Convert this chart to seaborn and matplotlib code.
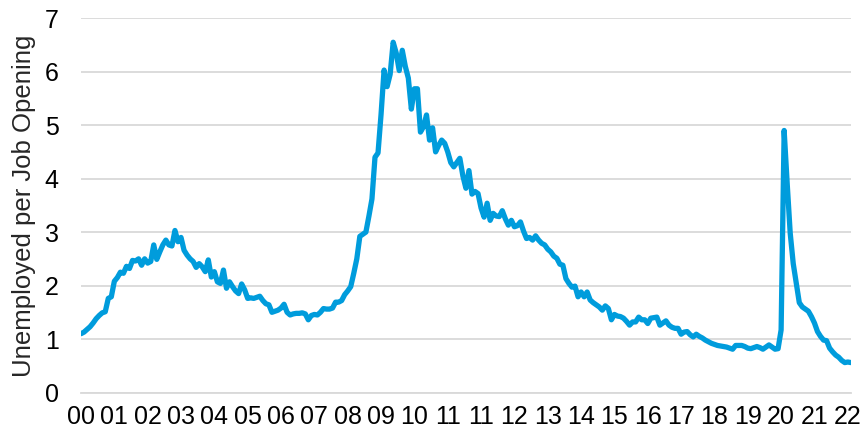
import numpy as np
import pandas as pd
import matplotlib
matplotlib.use("Agg")
import matplotlib.pyplot as plt
import seaborn as sns

# Unemployed persons per job opening, monthly, Dec 2000 - Feb 2022
ratio = [
    1.10,
    1.13, 1.18, 1.23, 1.30, 1.38, 1.44, 1.49, 1.51, 1.76, 1.79, 2.08, 2.15,  # 2001
    2.25, 2.23, 2.36, 2.32, 2.47, 2.46, 2.50, 2.38, 2.50, 2.42, 2.45, 2.76,  # 2002
    2.49, 2.63, 2.76, 2.85, 2.76, 2.74, 3.03, 2.82, 2.90, 2.66, 2.57, 2.50,  # 2003
    2.45, 2.34, 2.41, 2.35, 2.26, 2.48, 2.16, 2.26, 2.07, 2.04, 2.29, 1.95,  # 2004
    2.07, 1.98, 1.90, 1.85, 2.03, 1.92, 1.76, 1.77, 1.76, 1.78, 1.80, 1.72,  # 2005
    1.66, 1.64, 1.50, 1.52, 1.54, 1.58, 1.65, 1.50, 1.45, 1.47, 1.48, 1.48,  # 2006
    1.49, 1.47, 1.36, 1.44, 1.46, 1.45, 1.50, 1.57, 1.56, 1.56, 1.58, 1.69,  # 2007
    1.69, 1.72, 1.83, 1.90, 1.98, 2.23, 2.50, 2.92, 2.96, 3.00, 3.30, 3.62,  # 2008
    4.40, 4.48, 5.20, 6.03, 5.72, 5.95, 6.55, 6.35, 6.02, 6.40, 6.10, 5.88,  # 2009
    5.30, 5.68, 5.68, 4.87, 4.97, 5.19, 4.72, 4.95, 4.50, 4.62, 4.72, 4.66,  # 2010
    4.50, 4.30, 4.22, 4.30, 4.38, 4.05, 3.82, 4.15, 3.71, 3.76, 3.72, 3.45,  # 2011
    3.28, 3.54, 3.22, 3.35, 3.30, 3.29, 3.40, 3.25, 3.13, 3.22, 3.10, 3.12,  # 2012
    3.19, 3.02, 2.88, 2.90, 2.85, 2.93, 2.85, 2.79, 2.76, 2.68, 2.63, 2.55,  # 2013
    2.51, 2.40, 2.38, 2.13, 2.04, 1.97, 1.99, 1.79, 1.88, 1.79, 1.88, 1.73,  # 2014
    1.68, 1.64, 1.60, 1.54, 1.62, 1.57, 1.36, 1.46, 1.43, 1.42, 1.39, 1.33,  # 2015
    1.26, 1.32, 1.32, 1.41, 1.36, 1.36, 1.29, 1.39, 1.40, 1.41, 1.26, 1.30,  # 2016
    1.34, 1.26, 1.22, 1.20, 1.20, 1.09, 1.13, 1.14, 1.08, 1.04, 1.09, 1.05,  # 2017
    1.02, 0.98, 0.95, 0.92, 0.90, 0.88, 0.87, 0.86, 0.85, 0.83, 0.81, 0.88,  # 2018
    0.88, 0.88, 0.86, 0.83, 0.82, 0.84, 0.86, 0.84, 0.81, 0.85, 0.89, 0.85,  # 2019
    0.81, 0.82, 1.17, 4.90, 3.91, 2.98, 2.41, 2.04, 1.68, 1.60, 1.56, 1.52,  # 2020
    1.42, 1.30, 1.14, 1.05, 0.98, 0.97, 0.83, 0.76, 0.70, 0.66, 0.60, 0.56,  # 2021
    0.57, 0.56,                                                              # 2022
]

# category axis: a tick every 11 months, labelled with the year of that month
tick_labels = ["00", "01", "02", "03", "04", "05", "06", "07", "08", "09", "10",
               "11", "11", "12", "13", "14", "15", "16", "17", "18", "19", "20",
               "21", "22"]

df = pd.DataFrame({"month": np.arange(len(ratio)), "ratio": ratio})

sns.set_style("white")
plt.rcParams["font.family"] = ["Liberation Sans", "DejaVu Sans"]

fig = plt.figure(figsize=(8.64, 4.33), dpi=100)
ax = fig.add_axes([0.09375, 0.0935, 0.891, 0.8645])

sns.lineplot(data=df, x="month", y="ratio", ax=ax, color="#009CDC",
             linewidth=3.8, solid_capstyle="round", solid_joinstyle="round")

ax.set_xlim(0, len(ratio) - 1)
ax.set_ylim(0, 7)
ax.set_yticks(range(0, 8))
ax.set_xticks(np.arange(0, len(ratio), 11))
ax.set_xticklabels(tick_labels)

ax.grid(axis="y", color="#D9D9D9", linewidth=1.3)
ax.set_axisbelow(True)
for s in ["top", "right", "left"]:
    ax.spines[s].set_visible(False)
ax.spines["bottom"].set_color("#D9D9D9")
ax.spines["bottom"].set_linewidth(1.3)

ax.tick_params(axis="y", length=0, pad=16, labelsize=18, labelcolor="black")
ax.tick_params(axis="x", length=6, width=1.3, color="#D9D9D9", pad=3,
               labelsize=18, labelcolor="black", direction="out")

ax.set_xlabel("")
ax.set_ylabel("Unemployed per Job Opening", fontsize=18.5, labelpad=6)

fig.savefig("out.png", dpi=100)
